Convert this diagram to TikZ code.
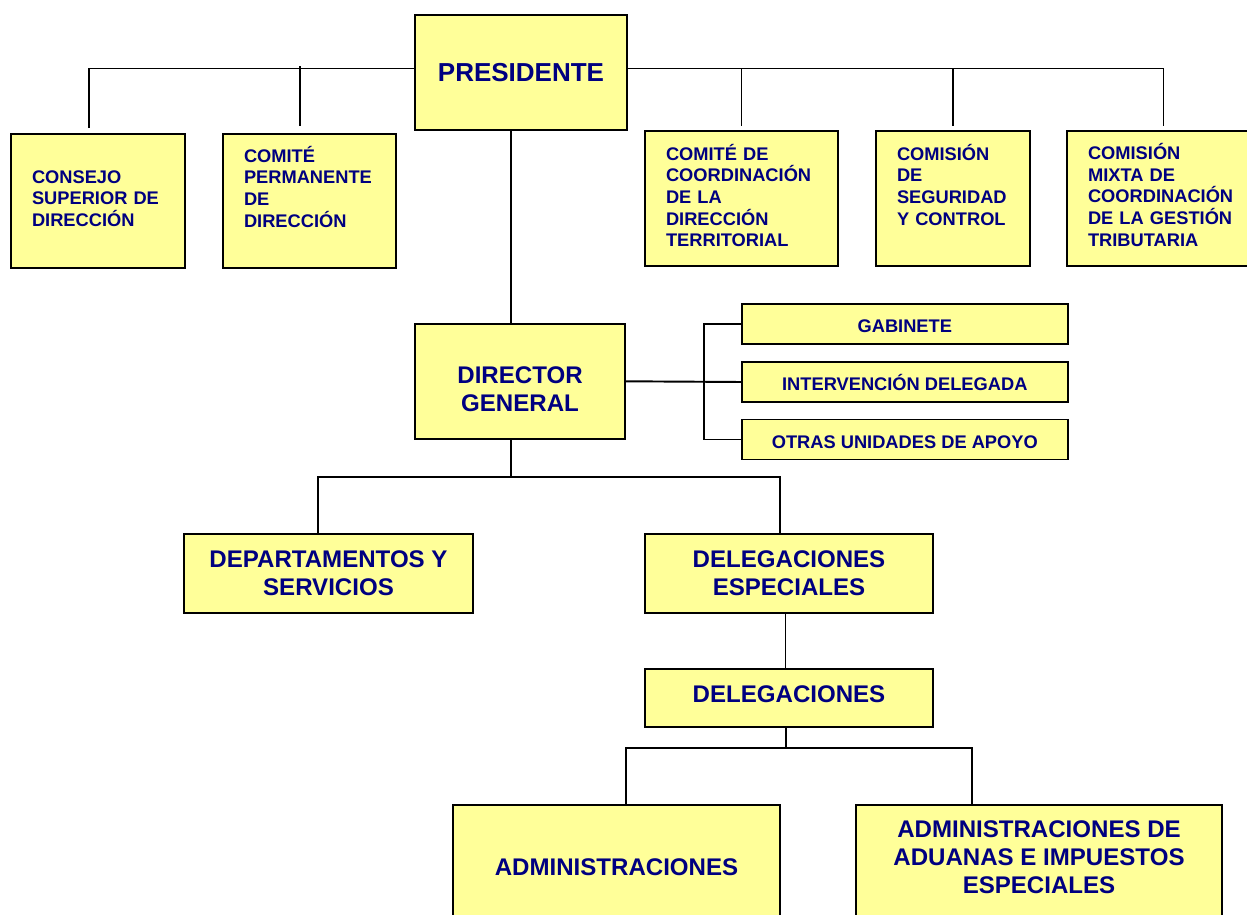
\documentclass[tikz,border=0pt]{standalone}
\usepackage{fontspec}
\setmainfont{Liberation Sans}
\definecolor{boxfill}{RGB}{255,255,153}
\definecolor{boxtext}{RGB}{0,0,128}
\tikzset{box/.style={draw=black, fill=boxfill, line width=1.1pt, inner sep=0pt, outer sep=0pt, text=boxtext, align=center}}
\tikzset{unit/.style={box, font=\bfseries\fontsize{10.4}{12.35}\selectfont, align=left, text height=0pt}}
\tikzset{mainbox/.style={box, font=\bfseries\fontsize{13.7}{15.75}\selectfont}}
\tikzset{supportbox/.style={box, font=\bfseries\fontsize{10.4}{12.35}\selectfont, minimum width=6.53cm, minimum height=0.8cm, text height=0.36cm, text depth=0pt}}
\tikzset{edge/.style={line width=1.1pt, black}}

\begin{document}
\begin{tikzpicture}[x=0.02cm,y=-0.02cm]
\useasboundingbox (0,0) rectangle (1247,915);
%top level with the committees
\node (pres) at (521,72.5)[mainbox, font=\bfseries\fontsize{14.8}{17}\selectfont, minimum width=4.24cm, minimum height=2.3cm]{PRESIDENTE};
\node (consejo) at (98,201)[unit, minimum width=3.48cm, minimum height=2.68cm, text width=2.64cm, text depth=0.72cm]{CONSEJO\\SUPERIOR DE\\DIRECCIÓN};
\node (permanente) at (309.5,201)[unit, minimum width=3.46cm, minimum height=2.68cm, text width=2.62cm, text depth=1.56cm]{COMITÉ\\PERMANENTE\\DE\\DIRECCIÓN};
\node (coordterr) at (741.5,198.5)[unit, minimum width=3.86cm, minimum height=2.7cm, text width=3.02cm, text depth=1.54cm]{COMITÉ DE\\COORDINACIÓN\\DE LA\\DIRECCIÓN\\TERRITORIAL};
\node (seguridad) at (953,198.5)[unit, minimum width=3.08cm, minimum height=2.7cm, text width=2.24cm, text depth=1.54cm]{COMISIÓN\\DE\\SEGURIDAD\\Y CONTROL};
\node (mixta) at (1163.5,198.5)[unit, minimum width=3.86cm, minimum height=2.7cm, text width=3.02cm, text depth=1.56cm]{COMISIÓN\\MIXTA DE\\COORDINACIÓN\\DE LA GESTIÓN\\TRIBUTARIA};
%director and support units
\node (dir) at (520,381.3)[mainbox, minimum width=4.2cm, minimum height=2.3cm, text height=1.2cm, text depth=0pt]{DIRECTOR\\GENERAL};
\node (gab) at (904.8,324)[supportbox]{GABINETE};
\node (int) at (904.8,382)[supportbox]{INTERVENCIÓN DELEGADA};
\node (otras) at (904.8,439.5)[supportbox]{OTRAS UNIDADES DE APOYO};
\coordinate (brk) at (704,381);
%lower levels
\node (dep) at (328.5,573.5)[mainbox, minimum width=5.78cm, minimum height=1.58cm]{DEPARTAMENTOS Y\\SERVICIOS};
\node (esp) at (789,573.5)[mainbox, minimum width=5.76cm, minimum height=1.58cm]{DELEGACIONES\\ESPECIALES};
\node (del) at (789,698)[mainbox, minimum width=5.76cm, minimum height=1.16cm, text height=0.17cm, text depth=0pt]{DELEGACIONES};
\node (adm) at (616.5,867.5)[mainbox, minimum width=6.54cm, minimum height=2.5cm]{ADMINISTRACIONES};
\node (adu) at (1039,867.5)[mainbox, minimum width=7.32cm, minimum height=2.5cm, text height=1.02cm, text depth=0pt]{ADMINISTRACIONES DE\\ADUANAS E IMPUESTOS\\ESPECIALES};
\coordinate (fork1) at (511,477);
\coordinate (fork2) at (786,748);
\draw[edge, shorten >=0.12cm] ([yshift=0.08cm]pres.west) -| ([xshift=-0.18cm]consejo.north);
\draw[edge, shorten >=0.16cm] ([xshift=-0.19cm, yshift=0.12cm]permanente.north |- pres.west) -- ([xshift=-0.19cm]permanente.north);
\draw[edge, shorten >=0.1cm] ([yshift=0.08cm]pres.east) -| (mixta.north);
\draw[edge, shorten >=0.1cm] ([yshift=0.08cm]coordterr.north |- pres.east) -- (coordterr.north);
\draw[edge, shorten >=0.1cm] ([yshift=0.08cm]seguridad.north |- pres.east) -- (seguridad.north);
\draw[edge] ([xshift=-0.2cm]pres.south) -- ([xshift=-0.18cm]dir.north);
\draw[edge] (dir.east) -- (int.west);
\draw[edge] (gab.west) -| (brk) |- (otras.west);
\draw[edge] ([xshift=-0.18cm]dir.south) -- (fork1);
\draw[edge] ([xshift=-0.21cm]dep.north) |- (fork1) -| ([xshift=-0.18cm]esp.north);
\draw[edge] ([xshift=-0.07cm]esp.south) -- ([xshift=-0.07cm]del.north);
\draw[edge] ([xshift=-0.06cm]del.south) -- (fork2);
\draw[edge] ([xshift=0.19cm]adm.north) |- (fork2) -| ([xshift=-1.34cm]adu.north);
\end{tikzpicture}
\end{document}
